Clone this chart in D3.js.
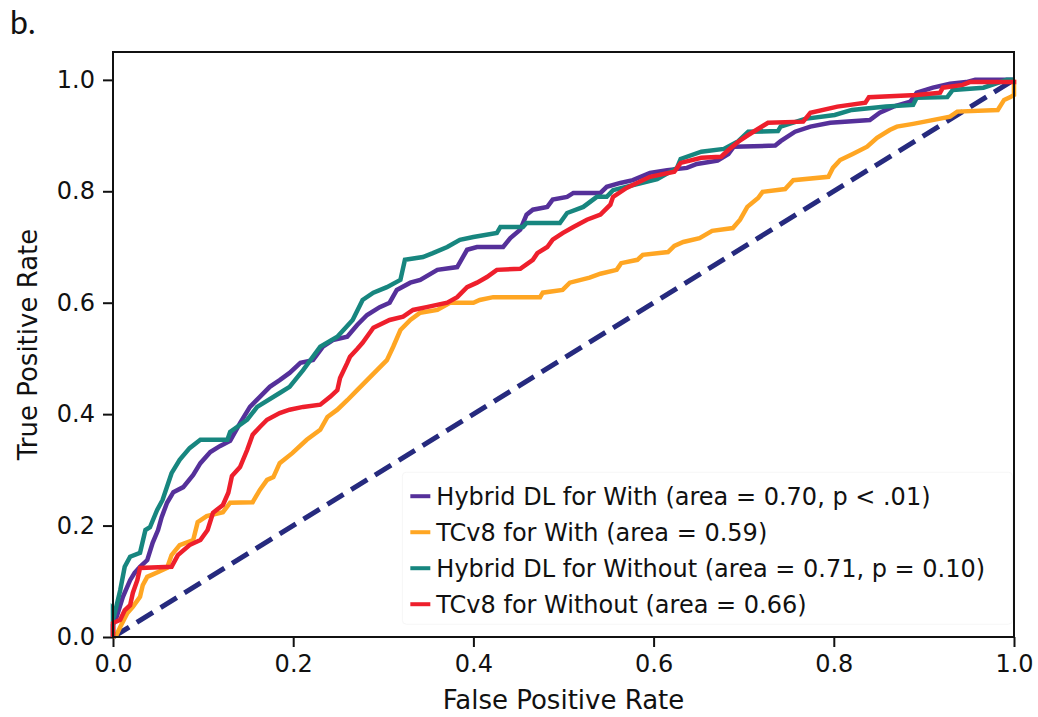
<!DOCTYPE html>
<meta charset="utf-8">
<html>
<head>
<title>ROC curves</title>
<script src="https://d3js.org/d3.v7.min.js"></script>
</head>
<style>
  body {margin: 0; background: #fff; font-family: "DejaVu Sans", sans-serif;}
  .axis text {font: 24px "DejaVu Sans"; fill: #111;}
  .axis line {stroke: #111; stroke-width: 2px;}
  .label {font: 26px "DejaVu Sans"; fill: #111;}
  .legend text {font: 24px "DejaVu Sans"; fill: #111;}
  .roc {fill: none; stroke-width: 4.5px; stroke-linejoin: miter;}
</style>
<body>
<svg id="chart" width="1038" height="717"></svg>
<script>
// tick labels
var xTicks = [0, 0.2, 0.4, 0.6, 0.8, 1.0];
var yTicks = [0, 0.2, 0.4, 0.6, 0.8, 1.0];

// Hybrid DL for With (purple)
var hybridWithFpr = [0, 0, 0.004, 0.011, 0.019, 0.024, 0.030, 0.038, 0.044, 0.050, 0.054, 0.060, 0.067, 0.078, 0.089, 0.097, 0.108, 0.119, 0.130, 0.141, 0.152, 0.163, 0.174, 0.185, 0.196, 0.208, 0.222, 0.233, 0.244, 0.260, 0.271, 0.282, 0.296, 0.307, 0.315, 0.330, 0.341, 0.360, 0.382, 0.393, 0.404, 0.433, 0.441, 0.452, 0.459, 0.466, 0.482, 0.488, 0.504, 0.511, 0.541, 0.548, 0.563, 0.577, 0.596, 0.615, 0.637, 0.648, 0.671, 0.683, 0.689, 0.735, 0.741, 0.757, 0.774, 0.796, 0.840, 0.851, 0.866, 0.885, 0.892, 0.910, 0.929, 0.947, 0.957, 1.0];
var hybridWithTpr = [0, 0.022, 0.036, 0.072, 0.102, 0.115, 0.126, 0.138, 0.169, 0.192, 0.215, 0.241, 0.260, 0.269, 0.291, 0.312, 0.332, 0.343, 0.352, 0.384, 0.413, 0.431, 0.449, 0.461, 0.474, 0.492, 0.497, 0.521, 0.533, 0.539, 0.560, 0.578, 0.592, 0.600, 0.623, 0.636, 0.641, 0.659, 0.664, 0.695, 0.700, 0.700, 0.716, 0.731, 0.758, 0.767, 0.772, 0.785, 0.790, 0.797, 0.797, 0.808, 0.815, 0.820, 0.833, 0.838, 0.842, 0.849, 0.855, 0.867, 0.880, 0.882, 0.890, 0.907, 0.916, 0.923, 0.928, 0.941, 0.952, 0.961, 0.977, 0.986, 0.993, 0.996, 1.0, 1.0];

// TCv8 for With (orange)
var tcWithFpr = [0, 0.004, 0.008, 0.016, 0.022, 0.030, 0.033, 0.038, 0.052, 0.060, 0.065, 0.074, 0.089, 0.094, 0.104, 0.122, 0.130, 0.155, 0.163, 0.171, 0.178, 0.185, 0.199, 0.215, 0.230, 0.238, 0.249, 0.260, 0.271, 0.282, 0.293, 0.304, 0.311, 0.319, 0.330, 0.341, 0.360, 0.374, 0.400, 0.407, 0.422, 0.474, 0.477, 0.499, 0.507, 0.529, 0.541, 0.559, 0.564, 0.582, 0.588, 0.616, 0.623, 0.633, 0.651, 0.665, 0.688, 0.696, 0.704, 0.716, 0.721, 0.746, 0.755, 0.794, 0.799, 0.807, 0.821, 0.837, 0.848, 0.862, 0.870, 0.888, 0.901, 0.929, 0.937, 0.982, 0.989, 0.996, 1.0, 1.0];
var tcWithTpr = [0, 0.004, 0.018, 0.043, 0.054, 0.072, 0.093, 0.108, 0.118, 0.124, 0.147, 0.165, 0.174, 0.206, 0.217, 0.224, 0.241, 0.242, 0.264, 0.282, 0.287, 0.312, 0.330, 0.354, 0.372, 0.395, 0.408, 0.425, 0.443, 0.461, 0.479, 0.497, 0.521, 0.551, 0.569, 0.582, 0.587, 0.600, 0.600, 0.605, 0.610, 0.610, 0.618, 0.623, 0.636, 0.645, 0.652, 0.659, 0.671, 0.677, 0.686, 0.691, 0.702, 0.709, 0.716, 0.729, 0.734, 0.749, 0.772, 0.788, 0.799, 0.804, 0.820, 0.826, 0.842, 0.856, 0.867, 0.880, 0.896, 0.910, 0.916, 0.921, 0.925, 0.934, 0.943, 0.946, 0.964, 0.969, 0.973, 1.0];

// Hybrid DL for Without (teal)
var hybridWithoutFpr = [0, 0, 0.002, 0.008, 0.013, 0.019, 0.030, 0.036, 0.041, 0.049, 0.055, 0.065, 0.074, 0.085, 0.097, 0.127, 0.130, 0.149, 0.160, 0.185, 0.196, 0.211, 0.230, 0.249, 0.266, 0.277, 0.289, 0.304, 0.319, 0.324, 0.344, 0.355, 0.371, 0.385, 0.400, 0.426, 0.430, 0.455, 0.459, 0.496, 0.504, 0.522, 0.537, 0.548, 0.555, 0.582, 0.604, 0.626, 0.630, 0.653, 0.678, 0.694, 0.705, 0.738, 0.741, 0.768, 0.801, 0.820, 0.858, 0.888, 0.892, 0.926, 0.932, 0.966, 0.992, 1.0];
var hybridWithoutTpr = [0, 0.048, 0.043, 0.084, 0.126, 0.144, 0.151, 0.192, 0.197, 0.228, 0.246, 0.294, 0.318, 0.339, 0.354, 0.354, 0.368, 0.390, 0.413, 0.438, 0.449, 0.479, 0.521, 0.539, 0.569, 0.605, 0.618, 0.628, 0.641, 0.677, 0.682, 0.689, 0.700, 0.713, 0.718, 0.725, 0.736, 0.736, 0.743, 0.743, 0.761, 0.772, 0.790, 0.790, 0.802, 0.813, 0.822, 0.842, 0.858, 0.871, 0.876, 0.890, 0.907, 0.908, 0.916, 0.930, 0.937, 0.946, 0.952, 0.955, 0.968, 0.969, 0.982, 0.986, 1.0, 1.0];

// TCv8 for Without (red)
var tcWithoutFpr = [0, 0, 0.008, 0.013, 0.019, 0.022, 0.027, 0.030, 0.065, 0.072, 0.085, 0.097, 0.105, 0.111, 0.122, 0.128, 0.132, 0.141, 0.149, 0.155, 0.163, 0.171, 0.185, 0.196, 0.211, 0.230, 0.241, 0.249, 0.252, 0.260, 0.263, 0.271, 0.277, 0.289, 0.307, 0.322, 0.333, 0.348, 0.371, 0.382, 0.393, 0.404, 0.415, 0.426, 0.452, 0.466, 0.471, 0.482, 0.488, 0.499, 0.511, 0.526, 0.541, 0.552, 0.555, 0.570, 0.596, 0.623, 0.630, 0.653, 0.675, 0.683, 0.694, 0.705, 0.727, 0.766, 0.774, 0.804, 0.835, 0.839, 0.892, 0.918, 0.921, 0.943, 0.951, 1.0, 1.0];
var tcWithoutTpr = [0, 0.025, 0.031, 0.048, 0.057, 0.079, 0.102, 0.124, 0.126, 0.147, 0.165, 0.174, 0.192, 0.223, 0.237, 0.259, 0.289, 0.305, 0.336, 0.363, 0.377, 0.390, 0.402, 0.408, 0.413, 0.417, 0.431, 0.443, 0.465, 0.492, 0.503, 0.517, 0.528, 0.555, 0.569, 0.575, 0.587, 0.592, 0.600, 0.610, 0.628, 0.636, 0.646, 0.659, 0.661, 0.677, 0.689, 0.700, 0.713, 0.725, 0.736, 0.749, 0.758, 0.776, 0.790, 0.806, 0.826, 0.835, 0.851, 0.860, 0.862, 0.874, 0.889, 0.901, 0.923, 0.925, 0.941, 0.952, 0.959, 0.969, 0.973, 0.977, 0.986, 0.991, 0.996, 0.996, 1.0];

var seriesNames = ["Hybrid DL for With (area = 0.70, p < .01)", "TCv8 for With (area = 0.59)", "Hybrid DL for Without (area = 0.71, p = 0.10)", "TCv8 for Without (area = 0.66)"];
var seriesColors = ["#55309a", "#ffa623", "#17867f", "#ee1f2c"];

var series = [
  {fpr: hybridWithFpr, tpr: hybridWithTpr},
  {fpr: tcWithFpr, tpr: tcWithTpr},
  {fpr: hybridWithoutFpr, tpr: hybridWithoutTpr},
  {fpr: tcWithoutFpr, tpr: tcWithoutTpr}
].map(function (s, i) {
  return {name: seriesNames[i], color: seriesColors[i],
          values: s.fpr.map(function (f, j) { return [f, s.tpr[j]]; })};
});

var svg = d3.select("#chart"),
    margin = {top: 52, right: 24, bottom: 80, left: 113},
    width = +svg.attr("width") - margin.left - margin.right,
    height = +svg.attr("height") - margin.top - margin.bottom;

var x = d3.scaleLinear().domain([0, 1]).range([0, width]),
    y = d3.scaleLinear().domain([0, 1.05]).range([height, 0]);

var g = svg.append("g")
    .attr("transform", "translate(" + margin.left + "," + margin.top + ")");

var xAxis = d3.axisBottom(x).tickValues(xTicks).tickFormat(d3.format(".1f")).tickSize(10).tickPadding(8),
    yAxis = d3.axisLeft(y).tickValues(yTicks).tickFormat(d3.format(".1f")).tickSize(10).tickPadding(8);

g.append("g")
    .attr("class", "axis axis--x")
    .attr("transform", "translate(0," + height + ")")
    .call(xAxis)
    .call(function (a) { a.select(".domain").remove(); });

g.append("g")
    .attr("class", "axis axis--y")
    .call(yAxis)
    .call(function (a) { a.select(".domain").remove(); });

// chance line
g.append("line")
    .attr("x1", x(0)).attr("y1", y(0))
    .attr("x2", x(1)).attr("y2", y(1))
    .attr("stroke", "#262a7e")
    .attr("stroke-width", 5)
    .attr("stroke-dasharray", "19,9");

var line = d3.line()
    .x(function (d) { return x(d[0]); })
    .y(function (d) { return y(d[1]); });

g.selectAll(".roc")
    .data(series)
  .enter().append("path")
    .attr("class", "roc")
    .attr("stroke", function (d) { return d.color; })
    .attr("d", function (d) { return line(d.values); });

// frame
g.append("rect")
    .attr("width", width)
    .attr("height", height)
    .attr("fill", "none")
    .attr("stroke", "#111")
    .attr("stroke-width", 2);

// axis labels
svg.append("text")
    .attr("class", "label")
    .attr("x", margin.left + width / 2)
    .attr("y", 709)
    .attr("text-anchor", "middle")
    .text("False Positive Rate");

svg.append("text")
    .attr("class", "label")
    .attr("transform", "translate(37," + (margin.top + height / 2) + ") rotate(-90)")
    .attr("text-anchor", "middle")
    .text("True Positive Rate");

svg.append("text")
    .attr("x", 10)
    .attr("y", 34)
    .style("font", "32px Lato")
    .style("fill", "#111")
    .text("b.");

// legend
var legend = g.append("g")
    .attr("class", "legend")
    .attr("transform", "translate(" + (x(0.33)) + "," + (y(0.285)) + ")");

legend.append("rect")
    .attr("x", -8).attr("y", -6)
    .attr("width", 610).attr("height", 152)
    .attr("rx", 4)
    .attr("fill", "#fff")
    .attr("fill-opacity", 0.8)
    .attr("stroke", "#f6f6f6");

var item = legend.selectAll(".item")
    .data(series)
  .enter().append("g")
    .attr("class", "item")
    .attr("transform", function (d, i) { return "translate(0," + (18 + i * 36) + ")"; });

item.append("line")
    .attr("x1", 0).attr("x2", 20)
    .attr("stroke", function (d) { return d.color; })
    .attr("stroke-width", 4);

item.append("text")
    .attr("x", 26)
    .attr("dy", "0.35em")
    .text(function (d) { return d.name; });
</script>
</body>
</html>
